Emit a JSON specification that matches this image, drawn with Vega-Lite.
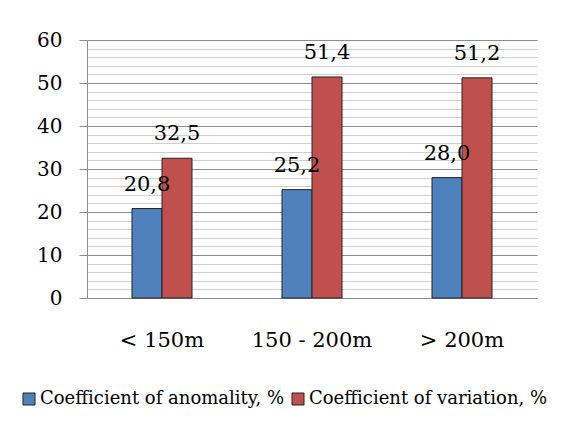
{
  "$schema": "https://vega.github.io/schema/vega-lite/v6.json",
  "autosize": "none",
  "width": 450,
  "height": 258,
  "padding": {"left": 87, "top": 40, "right": 29, "bottom": 127},
  "background": "white",
  "config": {
    "locale": {"number": {"decimal": ",", "thousands": " ", "grouping": [3], "currency": ["", ""]}},
    "view": {"stroke": null},
    "font": "DejaVu Serif",
    "style": {"guide-label": {"font": "DejaVu Serif", "fill": "black"}},
    "legend": {"labelFont": "DejaVu Serif", "labelFontSize": 18, "labelColor": "black"}
  },
  "data": {
    "values": [
      {"zone": "< 150m", "series": "Coefficient of anomality, %", "value": 20.8},
      {"zone": "< 150m", "series": "Coefficient of variation, %", "value": 32.5},
      {"zone": "150 - 200m", "series": "Coefficient of anomality, %", "value": 25.2},
      {"zone": "150 - 200m", "series": "Coefficient of variation, %", "value": 51.4},
      {"zone": "> 200m", "series": "Coefficient of anomality, %", "value": 28.0},
      {"zone": "> 200m", "series": "Coefficient of variation, %", "value": 51.2}
    ]
  },
  "encoding": {
    "x": {
      "field": "zone", "type": "nominal", "sort": null,
      "scale": {"paddingInner": 0.6, "paddingOuter": 0.3},
      "axis": {
        "title": null, "labelAngle": 0, "ticks": false, "domainColor": "#8c8c8c",
        "labelFont": "DejaVu Serif", "labelFontSize": 21, "labelColor": "black",
        "labelPadding": 31, "grid": false
      }
    },
    "xOffset": {"field": "series", "type": "nominal", "scale": {"padding": 0}},
    "y": {
      "field": "value", "type": "quantitative",
      "scale": {"domain": [0, 60], "nice": false},
      "axis": {
        "title": null,
        "values": [0,2,4,6,8,10,12,14,16,18,20,22,24,26,28,30,32,34,36,38,40,42,44,46,48,50,52,54,56,58,60],
        "labelExpr": "datum.value % 10 === 0 ? datum.value : ''",
        "labelFont": "DejaVu Serif", "labelFontSize": 20, "labelColor": "black",
        "labelPadding": 17, "tickSize": 8,
        "tickColor": {"condition": {"test": "datum.value % 10 === 0", "value": "#8c8c8c"}, "value": "transparent"},
        "domainColor": "#8c8c8c",
        "grid": true,
        "gridColor": {"condition": {"test": "datum.value % 10 === 0", "value": "#8c8c8c"}, "value": "#cfcfcf"},
        "gridWidth": 1.2
      }
    }
  },
  "layer": [
    {
      "mark": {"type": "bar", "stroke": "#222222", "strokeWidth": 1},
      "encoding": {
        "color": {
          "field": "series", "type": "nominal",
          "scale": {"range": ["#4F81BD", "#C0504D"]},
          "legend": {
            "title": null, "orient": "none", "legendX": -67, "legendY": 350,
            "direction": "horizontal", "symbolType": "square", "symbolSize": 144,
            "symbolStrokeColor": "#222222", "symbolStrokeWidth": 1,
            "labelFont": "DejaVu Serif", "labelFontSize": 18, "labelColor": "black",
            "labelOffset": 2, "columnPadding": 4, "labelLimit": 400
          }
        }
      }
    },
    {
      "mark": {"type": "text", "baseline": "alphabetic", "dy": -18, "font": "DejaVu Serif", "fontSize": 21, "color": "black"},
      "encoding": {
        "text": {"field": "value", "type": "quantitative", "format": ".1f"}
      }
    }
  ]
}
